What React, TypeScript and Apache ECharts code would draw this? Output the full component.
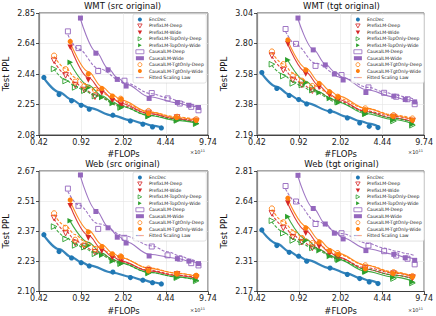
import React, { useEffect, useRef } from "react";
import * as echarts from "echarts";

// ---------- data ----------
const X_TICKS = [0.42, 0.92, 2.02, 4.44, 9.74]; // ×10^11 FLOPs
const TITLES = ["WMT (src original)", "WMT (tgt original)", "Web (src original)", "Web (tgt original)"];
const Y_TICKS_WMT_SRC = [2.08, 2.25, 2.44, 2.64, 2.85];
const Y_TICKS_WMT_TGT = [2.19, 2.38, 2.58, 2.8, 3.04];
const Y_TICKS_WEB_SRC = [2.1, 2.23, 2.37, 2.51, 2.67];
const Y_TICKS_WEB_TGT = [2.17, 2.31, 2.47, 2.64, 2.81];

const MODELS = [
  "EncDec",
  "PrefixLM-Deep",
  "PrefixLM-Wide",
  "PrefixLM-TopOnly-Deep",
  "PrefixLM-TopOnly-Wide",
  "CausalLM-Deep",
  "CausalLM-Wide",
  "CausalLM-TgtOnly-Deep",
  "CausalLM-TgtOnly-Wide",
];
const FIT_LABEL = "Fitted Scaling Law";

const FLOPS_ENCDEC = [0.46, 0.61, 0.77, 0.92, 1.07, 1.66, 2.3, 2.9, 3.47, 4.09];
const FLOPS_DEEP = [0.556, 0.689, 0.823, 0.977, 1.19, 1.915, 3.22, 5.48, 7.82];
const FLOPS_WIDE = [0.751, 1.051, 1.351, 1.643, 1.938, 3.22, 5.42, 7.82];
const FLOPS_CAUSAL_DEEP = [0.719, 0.875, 1.263, 2.06, 3.42, 4.59, 5.76, 7.13, 8.16];
const FLOPS_CAUSAL_WIDE = [0.908, 1.21, 1.517, 1.801, 2.124, 3.259, 5.51, 6.83, 8.16];
const MODEL_FLOPS = [
  FLOPS_ENCDEC, FLOPS_DEEP, FLOPS_WIDE, FLOPS_DEEP, FLOPS_WIDE,
  FLOPS_CAUSAL_DEEP, FLOPS_CAUSAL_WIDE, FLOPS_DEEP, FLOPS_WIDE,
];

// WMT (src original)
const WMT_SRC_PPL = [
  [2.413, 2.309, 2.272, 2.246, 2.223, 2.189, 2.157, 2.139, 2.124, 2.118],
  [2.52, 2.426, 2.366, 2.336, 2.296, 2.256, 2.202, 2.176, 2.157],
  [2.609, 2.397, 2.318, 2.272, 2.246, 2.189, 2.164, 2.151],
  [2.467, 2.391, 2.352, 2.332, 2.3, 2.233, 2.184, 2.16, 2.142],
  [2.509, 2.35, 2.292, 2.256, 2.233, 2.184, 2.16, 2.142],
  [2.718, 2.603, 2.454, 2.393, 2.318, 2.286, 2.256, 2.237, 2.217],
  [2.813, 2.569, 2.461, 2.401, 2.36, 2.286, 2.262, 2.246, 2.233],
  [2.553, 2.465, 2.387, 2.36, 2.336, 2.284, 2.213, 2.18, 2.166],
  [2.648, 2.434, 2.346, 2.3, 2.282, 2.199, 2.176, 2.16],
];
const WMT_SRC_FIT = [
  [2.409, 2.324, 2.28, 2.25, 2.231, 2.187, 2.161, 2.144, 2.131, 2.122],
  [2.513, 2.434, 2.381, 2.34, 2.305, 2.246, 2.199, 2.17, 2.157],
  [2.614, 2.413, 2.332, 2.286, 2.256, 2.199, 2.168, 2.151],
  [2.465, 2.397, 2.36, 2.332, 2.302, 2.24, 2.189, 2.164, 2.146],
  [2.503, 2.366, 2.302, 2.266, 2.24, 2.189, 2.16, 2.146],
  [2.694, 2.596, 2.471, 2.381, 2.314, 2.29, 2.27, 2.25, 2.237],
  [2.806, 2.58, 2.471, 2.413, 2.372, 2.296, 2.26, 2.244, 2.233],
  [2.547, 2.471, 2.413, 2.372, 2.336, 2.266, 2.208, 2.18, 2.164],
  [2.641, 2.45, 2.356, 2.309, 2.276, 2.208, 2.176, 2.16],
];

// WMT (tgt original)
const WMT_TGT_PPL = [
  [2.59, 2.482, 2.436, 2.409, 2.381, 2.335, 2.293, 2.262, 2.242, 2.234],
  [2.711, 2.608, 2.539, 2.505, 2.467, 2.405, 2.331, 2.299, 2.274],
  [2.798, 2.58, 2.489, 2.438, 2.405, 2.325, 2.289, 2.266],
  [2.649, 2.566, 2.516, 2.505, 2.471, 2.394, 2.32, 2.274, 2.248],
  [2.68, 2.521, 2.453, 2.416, 2.388, 2.316, 2.279, 2.254],
  [2.912, 2.798, 2.637, 2.573, 2.489, 2.453, 2.427, 2.411, 2.379],
  [2.999, 2.753, 2.644, 2.58, 2.539, 2.455, 2.431, 2.409, 2.394],
  [2.741, 2.649, 2.566, 2.534, 2.498, 2.427, 2.352, 2.31, 2.289],
  [2.828, 2.608, 2.516, 2.46, 2.427, 2.342, 2.303, 2.279],
];
const WMT_TGT_FIT = [
  [2.583, 2.493, 2.442, 2.409, 2.386, 2.335, 2.299, 2.274, 2.258, 2.242],
  [2.704, 2.617, 2.557, 2.512, 2.473, 2.4, 2.337, 2.303, 2.283],
  [2.793, 2.594, 2.498, 2.444, 2.409, 2.333, 2.293, 2.27],
  [2.64, 2.576, 2.53, 2.496, 2.462, 2.392, 2.329, 2.291, 2.266],
  [2.675, 2.53, 2.458, 2.42, 2.392, 2.32, 2.283, 2.258],
  [2.893, 2.79, 2.656, 2.557, 2.489, 2.458, 2.438, 2.423, 2.409],
  [2.991, 2.758, 2.651, 2.597, 2.555, 2.475, 2.427, 2.409, 2.398],
  [2.734, 2.651, 2.589, 2.543, 2.502, 2.418, 2.354, 2.312, 2.291],
  [2.82, 2.622, 2.525, 2.469, 2.433, 2.354, 2.308, 2.283],
];

// Web (src original)
const WEB_SRC_PPL = [
  [2.352, 2.274, 2.245, 2.224, 2.21, 2.183, 2.159, 2.148, 2.137, 2.132],
  [2.431, 2.359, 2.313, 2.297, 2.271, 2.242, 2.191, 2.173, 2.159],
  [2.491, 2.337, 2.276, 2.245, 2.227, 2.183, 2.169, 2.159],
  [2.39, 2.332, 2.302, 2.294, 2.264, 2.22, 2.179, 2.159, 2.145],
  [2.418, 2.302, 2.257, 2.231, 2.22, 2.179, 2.159, 2.148],
  [2.578, 2.491, 2.379, 2.337, 2.297, 2.257, 2.242, 2.222, 2.212],
  [2.649, 2.463, 2.384, 2.34, 2.313, 2.254, 2.242, 2.231, 2.22],
  [2.454, 2.384, 2.328, 2.306, 2.286, 2.252, 2.198, 2.176, 2.166],
  [2.52, 2.364, 2.297, 2.264, 2.252, 2.188, 2.176, 2.169],
];
const WEB_SRC_FIT = [
  [2.349, 2.285, 2.249, 2.227, 2.212, 2.18, 2.162, 2.149, 2.139, 2.132],
  [2.426, 2.368, 2.328, 2.297, 2.273, 2.228, 2.191, 2.17, 2.159],
  [2.49, 2.349, 2.285, 2.252, 2.231, 2.188, 2.168, 2.156],
  [2.39, 2.34, 2.311, 2.288, 2.267, 2.222, 2.182, 2.162, 2.148],
  [2.415, 2.316, 2.267, 2.24, 2.222, 2.182, 2.162, 2.151],
  [2.563, 2.496, 2.404, 2.346, 2.3, 2.273, 2.255, 2.237, 2.225],
  [2.642, 2.47, 2.39, 2.349, 2.319, 2.262, 2.243, 2.231, 2.222],
  [2.447, 2.393, 2.352, 2.322, 2.296, 2.246, 2.202, 2.178, 2.165],
  [2.515, 2.373, 2.306, 2.268, 2.246, 2.199, 2.178, 2.165],
];

// Web (tgt original)
const WEB_TGT_PPL = [
  [2.476, 2.395, 2.36, 2.341, 2.316, 2.282, 2.251, 2.231, 2.215, 2.207],
  [2.566, 2.487, 2.438, 2.412, 2.383, 2.336, 2.279, 2.255, 2.236],
  [2.623, 2.459, 2.39, 2.353, 2.333, 2.271, 2.247, 2.231],
  [2.526, 2.459, 2.421, 2.412, 2.383, 2.328, 2.267, 2.231, 2.21],
  [2.548, 2.421, 2.369, 2.34, 2.32, 2.262, 2.236, 2.215],
  [2.721, 2.632, 2.508, 2.459, 2.395, 2.366, 2.344, 2.328, 2.3],
  [2.784, 2.593, 2.508, 2.459, 2.429, 2.369, 2.35, 2.333, 2.32],
  [2.593, 2.517, 2.459, 2.434, 2.407, 2.356, 2.295, 2.262, 2.243],
  [2.651, 2.487, 2.412, 2.369, 2.35, 2.279, 2.255, 2.239],
];
const WEB_TGT_FIT = [
  [2.471, 2.405, 2.365, 2.34, 2.322, 2.282, 2.255, 2.234, 2.222, 2.209],
  [2.561, 2.497, 2.452, 2.417, 2.388, 2.333, 2.284, 2.258, 2.242],
  [2.619, 2.473, 2.4, 2.36, 2.336, 2.277, 2.248, 2.233],
  [2.519, 2.466, 2.431, 2.405, 2.38, 2.326, 2.277, 2.248, 2.23],
  [2.544, 2.428, 2.376, 2.346, 2.325, 2.267, 2.239, 2.22],
  [2.704, 2.628, 2.524, 2.457, 2.405, 2.382, 2.366, 2.353, 2.343],
  [2.776, 2.595, 2.51, 2.466, 2.434, 2.38, 2.351, 2.336, 2.326],
  [2.587, 2.522, 2.476, 2.441, 2.41, 2.35, 2.297, 2.264, 2.245],
  [2.645, 2.497, 2.424, 2.38, 2.355, 2.297, 2.261, 2.242],
];

// ---------- styles / layout ----------
const FONT = "DejaVu Sans";
const DOWN_TRI = "path://M0,0L10,0L5,9Z";
const RIGHT_TRI = "path://M0,0L9,5L0,10Z";
const STYLES = [
  { color: "#1f77b4", symbol: "circle", filled: true, dashed: false, width: 2.2, size: 5.2 },
  { color: "#d62728", symbol: DOWN_TRI, filled: false, dashed: true, width: 1.1, size: 5.6 },
  { color: "#d62728", symbol: DOWN_TRI, filled: true, dashed: false, width: 1.1, size: 5.6 },
  { color: "#2ca02c", symbol: RIGHT_TRI, filled: false, dashed: true, width: 1.1, size: 5.6 },
  { color: "#2ca02c", symbol: RIGHT_TRI, filled: true, dashed: false, width: 1.1, size: 5.6 },
  { color: "#9467bd", symbol: "rect", filled: false, dashed: true, width: 1.1, size: 5 },
  { color: "#9467bd", symbol: "rect", filled: true, dashed: false, width: 1.1, size: 5 },
  { color: "#ff7f0e", symbol: "circle", filled: false, dashed: true, width: 1.1, size: 5.2 },
  { color: "#ff7f0e", symbol: "circle", filled: true, dashed: false, width: 1.1, size: 5.2 },
];

const GRIDS = [
  { left: 37, top: 13, width: 171, height: 122 },
  { left: 257, top: 13, width: 169, height: 122 },
  { left: 37, top: 171, width: 171, height: 122 },
  { left: 257, top: 171, width: 169, height: 122 },
];

const PANELS = [
  { title: TITLES[0], yTicks: Y_TICKS_WMT_SRC, ppl: WMT_SRC_PPL, fit: WMT_SRC_FIT },
  { title: TITLES[1], yTicks: Y_TICKS_WMT_TGT, ppl: WMT_TGT_PPL, fit: WMT_TGT_FIT },
  { title: TITLES[2], yTicks: Y_TICKS_WEB_SRC, ppl: WEB_SRC_PPL, fit: WEB_SRC_FIT },
  { title: TITLES[3], yTicks: Y_TICKS_WEB_TGT, ppl: WEB_TGT_PPL, fit: WEB_TGT_FIT },
];

// log scale mapped onto tick units (ticks at 0..4)
const toUnit = (v: number, ticks: number[]) =>
  (Math.log(v / ticks[0]) / Math.log(ticks[4] / ticks[0])) * 4;

function buildOption() {
  const grid: any[] = [];
  const xAxis: any[] = [];
  const yAxis: any[] = [];
  const series: any[] = [];
  const legend: any[] = [];
  const graphic: any[] = [];

  const fitGradient = {
    type: "linear", x: 0, y: 0, x2: 1, y2: 0,
    colorStops: [
      { offset: 0, color: "rgba(31,119,180,0.55)" },
      { offset: 0.3, color: "rgba(148,103,189,0.5)" },
      { offset: 0.6, color: "rgba(214,39,40,0.45)" },
      { offset: 1, color: "rgba(255,127,14,0.5)" },
    ],
  };

  const legendData: any[] = MODELS.map((name, m) => {
    const s = STYLES[m];
    return {
      name,
      icon: s.symbol,
      itemStyle: {
        color: s.filled ? s.color : "rgba(255,255,255,0)",
        borderColor: s.color,
        borderWidth: s.filled ? 0 : 0.8,
      },
    };
  });
  legendData.push({
    name: FIT_LABEL,
    icon: "path://M0,0H20V3H0Z",
    itemStyle: { color: fitGradient, borderWidth: 0 },
  });

  PANELS.forEach((panel, p) => {
    const g = GRIDS[p];
    grid.push({
      ...g,
      show: true,
      borderColor: "#222",
      borderWidth: 0.8,
      backgroundColor: "transparent",
      containLabel: false,
    });
    xAxis.push({
      gridIndex: p,
      type: "value",
      min: 0,
      max: 4,
      interval: 1,
      axisLine: { show: true, lineStyle: { color: "#222", width: 0.8 } },
      axisTick: { show: true, length: 3, lineStyle: { color: "#222", width: 0.8 } },
      axisLabel: {
        fontSize: 8,
        color: "#222",
        fontFamily: FONT,
        margin: 3,
        showMinLabel: true,
        showMaxLabel: true,
        formatter: (v: number) => X_TICKS[Math.round(v)].toFixed(2),
      },
      splitLine: { show: true, lineStyle: { color: "#e4e4e4", width: 0.6 } },
      name: "#FLOPs",
      nameLocation: "middle",
      nameGap: 14.5,
      nameTextStyle: { fontSize: 8.5, color: "#111", fontFamily: FONT },
    });
    yAxis.push({
      gridIndex: p,
      type: "value",
      min: 0,
      max: 4,
      interval: 1,
      axisLine: { show: true, lineStyle: { color: "#888", width: 1.2 } },
      axisTick: { show: true, length: 3, lineStyle: { color: "#222", width: 0.8 } },
      axisLabel: {
        fontSize: 8,
        color: "#222",
        fontFamily: FONT,
        margin: 4,
        showMinLabel: true,
        showMaxLabel: true,
        formatter: (v: number) => panel.yTicks[Math.round(v)].toFixed(2),
      },
      splitLine: { show: true, lineStyle: { color: "#e4e4e4", width: 0.6 } },
      name: "Test PPL",
      nameLocation: "middle",
      nameGap: 29,
      nameTextStyle: { fontSize: 8.5, color: "#111", fontFamily: FONT },
    });

    MODELS.forEach((name, m) => {
      const s = STYLES[m];
      const xs = MODEL_FLOPS[m];
      series.push({
        type: "line",
        name: name + " fit",
        xAxisIndex: p,
        yAxisIndex: p,
        data: xs.map((f, i) => [toUnit(f, X_TICKS), toUnit(panel.fit[m][i], panel.yTicks)]),
        smooth: 0.35,
        smoothMonotone: "x",
        symbol: "none",
        showSymbol: false,
        silent: true,
        z: 2,
        lineStyle: {
          color: s.color,
          width: s.width,
          type: s.dashed ? [3, 1.6] : "solid",
          opacity: 0.9,
        },
      });
      series.push({
        type: "scatter",
        name,
        xAxisIndex: p,
        yAxisIndex: p,
        data: xs.map((f, i) => [toUnit(f, X_TICKS), toUnit(panel.ppl[m][i], panel.yTicks)]),
        symbol: s.symbol,
        symbolSize: s.size,
        silent: true,
        z: 3,
        itemStyle: {
          color: s.filled ? s.color : "rgba(255,255,255,0)",
          borderColor: s.color,
          borderWidth: s.filled ? 0 : 0.9,
          opacity: 1,
        },
      });
    });

    legend.push({
      left: g.left + g.width - 75,
      top: g.top + 1,
      orient: "vertical",
      selectedMode: false,
      itemWidth: 8,
      itemHeight: 4,
      itemGap: 1.45,
      padding: [3, 2.5, 3, 2.5],
      backgroundColor: "rgba(255,255,255,0.85)",
      borderColor: "#cfcfcf",
      borderWidth: 0.6,
      borderRadius: 2,
      textStyle: { fontSize: 4.6, lineHeight: 5, color: "#222", fontFamily: FONT },
      data: legendData,
    });

    graphic.push({
      type: "text",
      x: g.left + g.width / 2,
      y: g.top - 7,
      style: {
        text: panel.title,
        fontSize: 8.5,
        fontFamily: FONT,
        fill: "#111",
        align: "center",
        verticalAlign: "middle",
      },
    });
    graphic.push({
      type: "text",
      x: g.left + g.width - 18,
      y: g.top + g.height + 16.5,
      style: {
        text: "{a|×10}{b|11}",
        fontFamily: FONT,
        fill: "#222",
        align: "left",
        verticalAlign: "middle",
        rich: {
          a: { fontSize: 5, fontFamily: FONT, fill: "#222", verticalAlign: "bottom", lineHeight: 6 },
          b: { fontSize: 3.6, fontFamily: FONT, fill: "#222", verticalAlign: "top", lineHeight: 6 },
        },
      },
    });
  });

  series.push({
    type: "line",
    name: FIT_LABEL,
    xAxisIndex: 0,
    yAxisIndex: 0,
    data: [],
    symbol: "none",
    lineStyle: { color: fitGradient, width: 1.5 },
  });

  return {
    animation: false,
    backgroundColor: "#fff",
    grid,
    xAxis,
    yAxis,
    series,
    legend,
    graphic,
  };
}

export default function App() {
  const ref = useRef<HTMLDivElement | null>(null);
  useEffect(() => {
    if (!ref.current) return;
    const chart = echarts.init(ref.current, undefined, { renderer: "svg" });
    chart.setOption(buildOption() as any);
    return () => chart.dispose();
  }, []);
  return (
    <div
      ref={ref}
      style={{ position: "absolute", left: 0, top: 0, width: 436, height: 316, background: "#fff" }}
    />
  );
}
